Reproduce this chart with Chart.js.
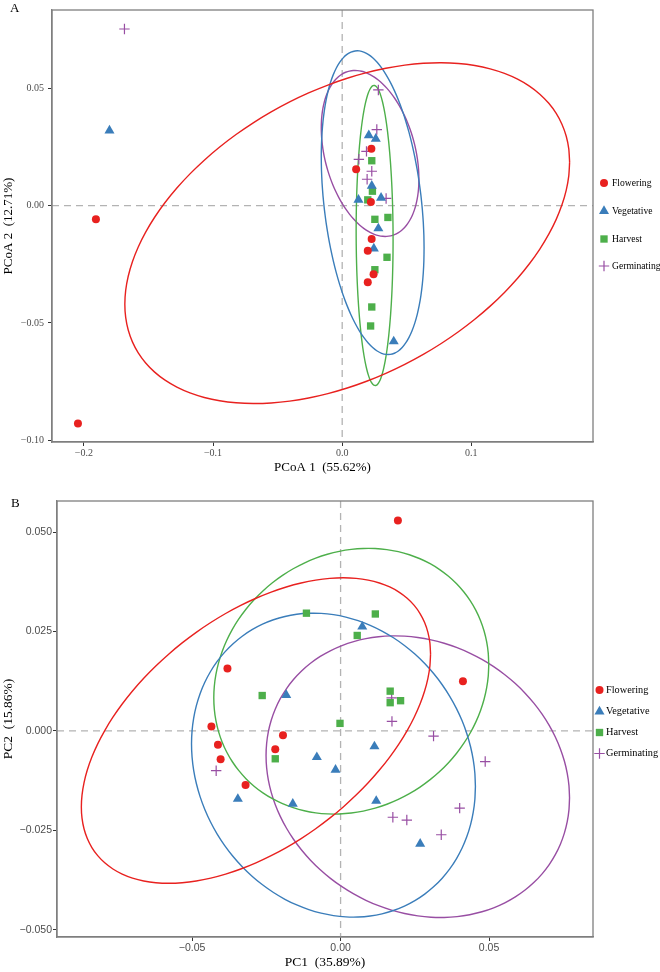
<!DOCTYPE html>
<html>
<head>
<meta charset="utf-8">
<script src="https://cdn.jsdelivr.net/npm/chart.js@4/dist/chart.umd.min.js"></script>
<style>
  html, body { margin: 0; padding: 0; background: #fff; }
  .panel { position: relative; width: 660px; }
  #pcoa-wrap { height: 480px; }
  #pca-wrap { height: 492px; }
</style>
</head>
<body>
<div class="panel" id="pcoa-wrap"><canvas id="pcoa-chart"></canvas></div>
<div class="panel" id="pca-wrap"><canvas id="pca-chart"></canvas></div>
<script>
const groups = ["Flowering", "Vegetative", "Harvest", "Germinating"];

// Panel A: PCoA scores, [PCoA1, PCoA2]
const pcoaFlowering = [[-0.1907, -0.0058], [-0.2046, -0.0929], [0.0226, 0.0243], [0.0108, 0.0156], [0.0222, 0.0016],
  [0.0228, -0.0142], [0.0198, -0.0192], [0.0243, -0.0292], [0.0198, -0.0326]];
const pcoaVegetative = [[-0.1802, 0.0321], [0.0206, 0.0300], [0.0260, 0.0285], [0.0229, 0.0085], [0.0126, 0.0025],
  [0.0301, 0.0034], [0.0280, -0.0097], [0.0245, -0.0183], [0.0399, -0.0579]];
const pcoaHarvest = [[0.0229, 0.0192], [0.0234, 0.0062], [0.0198, 0.0025], [0.0253, -0.0058], [0.0354, -0.0050],
  [0.0347, -0.0220], [0.0253, -0.0273], [0.0229, -0.0432], [0.0220, -0.0513]];
const pcoaGerminating = [[-0.1686, 0.0754], [0.0280, 0.0494], [0.0268, 0.0325], [0.0188, 0.0232], [0.0129, 0.0198],
  [0.0229, 0.0147], [0.0193, 0.0113], [0.0340, 0.0031]];

// 95% ellipses: [centre x, centre y, half x-extent, half y-extent, tilt]
const pcoaEllipseFlowering = [0.0039, -0.0117, 0.1722, 0.0727, 0.417];
const pcoaEllipseVegetative = [0.0236, 0.0013, 0.0398, 0.0648, -0.30];
const pcoaEllipseHarvest = [0.0251, -0.0127, 0.0143, 0.0640, -0.03];
const pcoaEllipseGerminating = [0.0216, 0.0223, 0.0378, 0.0354, -0.31];

const pcoaXTicks = [-0.2, -0.1, 0.0, 0.1];
const pcoaXLabels = ["\u22120.2", "\u22120.1", "0.0", "0.1"];
const pcoaYTicks = [-0.10, -0.05, 0.00, 0.05];
const pcoaYLabels = ["\u22120.10", "\u22120.05", "0.00", "0.05"];

// Panel B: PCA scores, [PC1, PC2]
const pcaFlowering = [[0.0193, 0.0529], [-0.0381, 0.0157], [0.0412, 0.0125], [-0.0435, 0.0011], [-0.0194, -0.0011],
  [-0.0413, -0.0035], [-0.0220, -0.0046], [-0.0404, -0.0071], [-0.0320, -0.0136]];
const pcaVegetative = [[-0.0183, 0.0090], [0.0073, 0.0262], [0.0114, -0.0039], [-0.0080, -0.0066], [-0.0017, -0.0098],
  [0.0120, -0.0176], [-0.0346, -0.0171], [-0.0161, -0.0183], [0.0268, -0.0284]];
const pcaHarvest = [[-0.0115, 0.0296], [0.0117, 0.0294], [0.0056, 0.0240], [-0.0264, 0.0089], [0.0167, 0.0100],
  [0.0202, 0.0076], [0.0167, 0.0071], [-0.0002, 0.0019], [-0.0220, -0.0070]];
const pcaGerminating = [[-0.0419, -0.0100], [0.0172, 0.0083], [0.0173, 0.0024], [0.0313, -0.0013], [0.0487, -0.0077],
  [0.0401, -0.0194], [0.0176, -0.0217], [0.0223, -0.0224], [0.0339, -0.0261]];

const pcaEllipseFlowering = [-0.0285, 0.0001, 0.0588, 0.0384, 0.50];
const pcaEllipseVegetative = [-0.0024, -0.0086, 0.0478, 0.0382, -0.14];
const pcaEllipseHarvest = [0.0036, 0.0125, 0.0463, 0.0334, 0.125];
const pcaEllipseGerminating = [0.0260, -0.0115, 0.0511, 0.0354, -0.15];

const pcaXTicks = [-0.05, 0.00, 0.05];
const pcaXLabels = ["\u22120.05", "0.00", "0.05"];
const pcaYTicks = [-0.050, -0.025, 0.000, 0.025, 0.050];
const pcaYLabels = ["\u22120.050", "\u22120.025", "0.000", "0.025", "0.050"];

const groupColors = ["#E8211F", "#3A7DBA", "#4DAF4A", "#984EA3"];
const groupShapes = ["circle", "triangle", "rect", "cross"];
const groupRadius = [4, 5.8, 5.2, 5.2];

const serif = "'Liberation Serif', 'Times New Roman', serif";
const sans = "'Liberation Sans', Arial, sans-serif";

function ellipsePath(e) {
  const [cx, cy, a, b, tilt] = e;
  const d = Math.acos(tilt);
  const pts = [];
  for (let i = 0; i <= 72; i++) {
    const t = (i / 72) * Math.PI * 2;
    pts.push({ x: cx + a * Math.cos(t), y: cy + b * Math.cos(t - d) });
  }
  return pts;
}

const panelDecor = {
  id: "panelDecor",
  beforeDatasetsDraw(chart) {
    const { ctx, chartArea: a, scales: { x, y } } = chart;
    const x0 = x.getPixelForValue(0);
    const y0 = y.getPixelForValue(0);
    ctx.save();
    ctx.strokeStyle = "#b3b3b3";
    ctx.lineWidth = 1.3;
    ctx.setLineDash([7, 5]);
    ctx.beginPath();
    ctx.moveTo(x0, a.top);
    ctx.lineTo(x0, a.bottom);
    ctx.moveTo(a.left, y0);
    ctx.lineTo(a.right, y0);
    ctx.stroke();
    ctx.restore();
  },
  afterDraw(chart, args, o) {
    const { ctx, chartArea: a } = chart;
    ctx.save();
    ctx.strokeStyle = "#7f7f7f";
    ctx.lineWidth = 1.3;
    ctx.strokeRect(a.left, a.top, a.right - a.left, a.bottom - a.top);

    ctx.fillStyle = "#000";
    ctx.font = "13px " + serif;
    ctx.textAlign = "left";
    ctx.textBaseline = "alphabetic";
    ctx.fillText(o.tag, o.tagX, o.tagY);

    ctx.font = o.legendFont + "px " + serif;
    ctx.textBaseline = "middle";
    groups.forEach((g, i) => {
      const ly = o.legendY[i];
      ctx.fillStyle = groupColors[i];
      ctx.strokeStyle = groupColors[i];
      ctx.lineWidth = 1.2;
      Chart.helpers.drawPoint(ctx, {
        pointStyle: groupShapes[i], radius: groupRadius[i], rotation: 0, borderWidth: groupShapes[i] === "cross" ? 1.2 : 0
      }, o.legendX, ly);
      ctx.fillStyle = "#000";
      ctx.fillText(g, o.legendTextX, ly);
    });
    ctx.restore();
  }
};

function makePanel(id, cfg) {
  const datasets = [];
  cfg.points.forEach((pts, i) => {
    datasets.push({
      label: groups[i],
      data: pts.map(([x, y]) => ({ x, y })),
      pointStyle: groupShapes[i],
      pointRadius: groupRadius[i],
      pointHoverRadius: groupRadius[i],
      backgroundColor: groupColors[i],
      borderColor: groupColors[i],
      borderWidth: groupShapes[i] === "cross" ? 1.2 : 0
    });
  });
  cfg.ellipses.forEach((e, i) => {
    datasets.push({
      label: groups[i] + " ellipse",
      data: ellipsePath(e),
      showLine: true,
      pointRadius: 0,
      borderColor: groupColors[i],
      borderWidth: 1.4,
      fill: false,
      // non-zero tension keeps Chart.js off its fast path, which flattens near-vertical runs
      tension: 0.2
    });
  });

  return new Chart(document.getElementById(id), {
    type: "scatter",
    data: { datasets },
    options: {
      responsive: true,
      maintainAspectRatio: false,
      animation: false,
      devicePixelRatio: 1,
      events: [],
      layout: { padding: { top: cfg.top, right: 67, bottom: 0, left: 0 } },
      scales: {
        x: {
          type: "linear",
          min: cfg.xMin,
          max: cfg.xMax,
          afterBuildTicks: s => { s.ticks = cfg.xTicks.map(v => ({ value: v })); },
          afterFit: s => { s.height = cfg.xHeight; },
          ticks: {
            callback: (v, i) => cfg.xLabels[i],
            font: { family: cfg.tickFont, size: cfg.tickSize },
            color: "#4d4d4d",
            padding: 1,
            maxRotation: 0,
            autoSkip: false
          },
          grid: { display: true, drawOnChartArea: false, drawTicks: true, tickLength: 4, color: "#333", tickWidth: 1 },
          border: { display: true, color: "#7f7f7f", width: 1.3 },
          title: {
            display: true,
            text: cfg.xTitle,
            color: "#000",
            font: { family: serif, size: cfg.titleSize },
            padding: { top: 0, bottom: cfg.xTitlePad }
          }
        },
        y: {
          type: "linear",
          min: cfg.yMin,
          max: cfg.yMax,
          afterBuildTicks: s => { s.ticks = cfg.yTicks.map(v => ({ value: v })); },
          afterFit: s => { s.width = cfg.yWidth; },
          ticks: {
            callback: (v, i) => cfg.yLabels[i],
            font: { family: cfg.tickFont, size: cfg.tickSize },
            color: "#4d4d4d",
            padding: cfg.yTickPad,
            autoSkip: false
          },
          grid: { display: true, drawOnChartArea: false, drawTicks: true, tickLength: 4, color: "#333", tickWidth: 1 },
          border: { display: true, color: "#7f7f7f", width: 1.3 },
          title: {
            display: true,
            text: cfg.yTitle,
            color: "#000",
            font: { family: serif, size: cfg.titleSize },
            padding: { top: cfg.yTitlePad, bottom: 0 }
          }
        }
      },
      plugins: {
        legend: { display: false },
        tooltip: { enabled: false },
        panelDecor: cfg.decor
      }
    },
    plugins: [panelDecor]
  });
}

makePanel("pcoa-chart", {
  points: [pcoaFlowering, pcoaVegetative, pcoaHarvest, pcoaGerminating],
  ellipses: [pcoaEllipseFlowering, pcoaEllipseVegetative, pcoaEllipseHarvest, pcoaEllipseGerminating],
  xMin: -0.2247, xMax: 0.1942, yMin: -0.1008, yMax: 0.0835,
  xTicks: pcoaXTicks, xLabels: pcoaXLabels, yTicks: pcoaYTicks, yLabels: pcoaYLabels,
  xTitle: "PCoA 1  (55.62%)", yTitle: "PCoA 2  (12.71%)",
  top: 7, xHeight: 38, yWidth: 52, tickFont: serif, tickSize: 10, titleSize: 13,
  xTitlePad: 5, yTitlePad: 1, yTickPad: 4,
  decor: { tag: "A", tagX: 10, tagY: 12, legendX: 604, legendTextX: 612, legendY: [183, 211, 239, 266], legendFont: 9.6 }
});

makePanel("pca-chart", {
  points: [pcaFlowering, pcaVegetative, pcaHarvest, pcaGerminating],
  ellipses: [pcaEllipseFlowering, pcaEllipseVegetative, pcaEllipseHarvest, pcaEllipseGerminating],
  xMin: -0.0955, xMax: 0.085, yMin: -0.0518, yMax: 0.0578,
  xTicks: pcaXTicks, xLabels: pcaXLabels, yTicks: pcaYTicks, yLabels: pcaYLabels,
  xTitle: "PC1  (35.89%)", yTitle: "PC2  (15.86%)",
  top: 21, xHeight: 35, yWidth: 57, tickFont: sans, tickSize: 10.5, titleSize: 13.5,
  xTitlePad: 1, yTitlePad: 0, yTickPad: 1,
  decor: { tag: "B", tagX: 11, tagY: 27, legendX: 599.5, legendTextX: 606, legendY: [210, 231.5, 252.5, 273.5], legendFont: 10.3 }
});
</script>
</body>
</html>
